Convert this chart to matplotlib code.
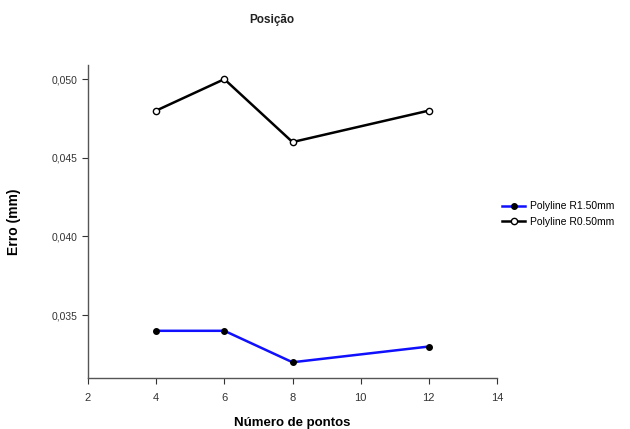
import matplotlib
matplotlib.use("Agg")
import matplotlib.pyplot as plt
from matplotlib.ticker import FuncFormatter

plt.rcParams['font.family'] = ['Liberation Sans', 'DejaVu Sans']

pontos = [4, 6, 8, 12]
erro_r150 = [0.034, 0.034, 0.032, 0.033]
erro_r050 = [0.048, 0.050, 0.046, 0.048]
x_ticks = [2, 4, 6, 8, 10, 12, 14]
y_ticks = [0.035, 0.040, 0.045, 0.050]

fig = plt.figure(figsize=(6.3, 4.29), dpi=100)
ax = fig.add_axes([0.1397, 0.1189, 0.6492, 0.7296])

ax.plot(pontos, erro_r150, color='#1010ff', lw=1.8, marker='o', ms=4,
        mfc='black', mec='black', label='Polyline R1.50mm')
ax.plot(pontos, erro_r050, color='black', lw=1.8, marker='o', ms=4.5,
        mfc='white', mec='black', mew=1.0, label='Polyline R0.50mm')

ax.set_xlim(2, 14)
ax.set_ylim(0.031, 0.0509)
ax.set_xticks(x_ticks)
ax.set_yticks(y_ticks)
ax.yaxis.set_major_formatter(FuncFormatter(lambda v, p: f"{v:.3f}".replace('.', ',')))
ax.tick_params(direction='out', length=4, width=0.8, labelsize=7.5, colors='#333333')
ax.tick_params(axis='x', pad=7, labelsize=8)
for s in ['top', 'right']:
    ax.spines[s].set_visible(False)
for s in ['left', 'bottom']:
    ax.spines[s].set_color('#555555')
    ax.spines[s].set_linewidth(1.0)

fig.text(0.432, 1 - 20 / 429, 'Posição', ha='center', va='center',
         fontsize=8.5, fontweight='bold', color='#222222')
ax.set_xlabel('Número de pontos', fontsize=9.5, fontweight='bold', labelpad=10)
ax.set_ylabel('Erro (mm)', fontsize=10, fontweight='bold', labelpad=22)

fig.legend(loc='center left', bbox_to_anchor=(498 / 630, 1 - 214 / 429),
           frameon=False, fontsize=7.5, handlelength=2.2, handletextpad=0.5,
           labelspacing=0.5, borderaxespad=0)

fig.savefig('out.png', dpi=100)
